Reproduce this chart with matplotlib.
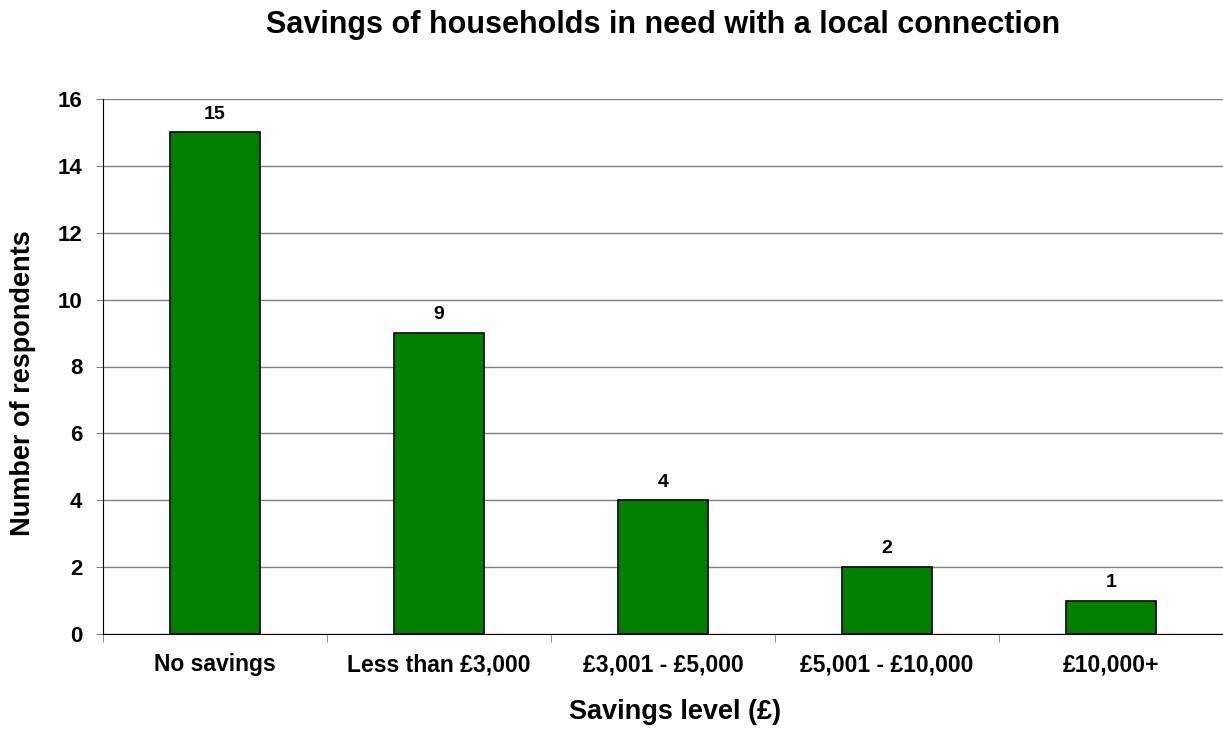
import matplotlib
matplotlib.use("Agg")
from matplotlib import pyplot as plt
import numpy as np

# Data
categories = ['No savings', 'Less than £3,000', '£3,001 - £5,000', '£5,001 - £10,000', '£10,000+']
respondents = [15, 9, 4, 2, 1]

plt.rcParams['font.family'] = ['Liberation Sans', 'DejaVu Sans']
plt.rcParams['font.weight'] = 'bold'

fig = plt.figure(figsize=(12.23, 7.29), dpi=100)
ax = fig.add_axes([103 / 1223, 1 - 634 / 729, 1 - 103 / 1223, (634 - 99) / 729])

x = np.arange(len(categories))
ax.bar(x, respondents, width=0.4, color='#008000', edgecolor='black', linewidth=1.2, zorder=3)

# value labels above bars
for xi, v in zip(x, respondents):
    ax.annotate(str(v), (xi, v), xytext=(0, 7), textcoords='offset points',
                ha='center', va='bottom', fontsize=14, fontweight='bold')

ax.set_xlim(-0.5, len(categories) - 0.5)
ax.set_ylim(0, 16)
ax.set_yticks(range(0, 17, 2))
ax.yaxis.grid(True, color='#808080', linewidth=1, zorder=0)

ax.set_xticks(x)
ax.set_xticklabels(categories, fontsize=16.5, fontweight='bold')
ax.set_xticks(np.arange(len(categories) + 1) - 0.5, minor=True)
ax.tick_params(axis='x', which='major', length=0, pad=14)
ax.tick_params(axis='x', which='minor', length=6, color='#808080', direction='out')
ax.tick_params(axis='y', length=5, color='#808080', labelsize=16, pad=10)
for lbl in ax.get_yticklabels():
    lbl.set_fontweight('bold')

for s in ['top', 'right']:
    ax.spines[s].set_visible(False)
ax.spines['left'].set_color('black')
ax.spines['bottom'].set_color('black')

fig.text(675 / 1223, 1 - 712 / 729, 'Savings level (£)',
         ha='center', va='center', fontsize=19.5, fontweight='bold')
fig.text(23 / 1223, 1 - 383 / 729, 'Number of respondents', rotation=90,
         ha='center', va='center', fontsize=19.5, fontweight='bold')
fig.text(663.5 / 1223, 1 - 25 / 729, 'Savings of households in need with a local connection',
         ha='center', va='center', fontsize=22, fontweight='bold')

fig.savefig('out.png', dpi=100)
